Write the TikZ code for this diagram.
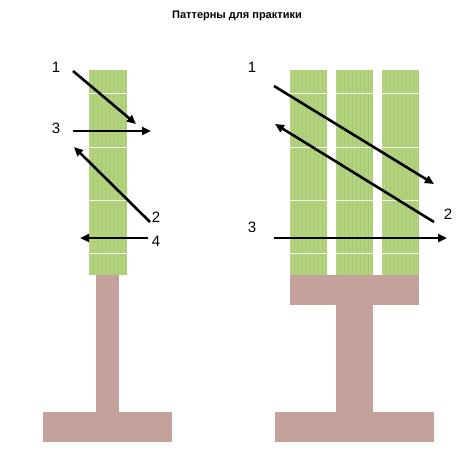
\documentclass[tikz,border=0pt]{standalone}
\usepackage{fontspec}
\setmainfont{Liberation Sans}
\usetikzlibrary{arrows.meta}
\definecolor{leafgreen}{HTML}{B3D27E}
\definecolor{stripegreen}{HTML}{A9CA74}
\definecolor{woodpink}{HTML}{C4A19A}

\begin{document}
\begin{tikzpicture}[x=1pt, y=-1pt,
          plank/.style={fill=leafgreen, draw=none},
          body/.style={fill=woodpink, draw=none},
          seam/.style={white!85!leafgreen, line width=1pt},
          grain/.style={stripegreen, line width=0.5pt},
          arrow/.style={-{Triangle[length=9pt,width=8pt]}, line width=2.6pt},
          num/.style={font=\fontsize{15}{15}\selectfont, inner sep=0pt}
        ]
          \useasboundingbox (0,0) rectangle (472,474);
          \node[font=\bfseries\fontsize{11}{11}\selectfont] (title) at (237,16) {Паттерны для практики};

          % Left: narrow board
          \fill[body] (96,275) rectangle (119,413);
          \fill[body] (43,412) rectangle (172,442);
          \fill[plank] (89,70) rectangle (127,275);
          \foreach \x in {93,97,...,125} \draw[grain] (\x,70) -- (\x,275);
          \foreach \y in {93,147,200,253} \draw[seam] (89,\y) -- (127,\y);

          % Right: wide board
          \fill[body] (290,275) rectangle (419,305);
          \fill[body] (336,305) rectangle (373,413);
          \fill[body] (275,412) rectangle (434,442);
          \foreach \a/\b in {290/327, 336/373, 382/419} {
            \fill[plank] (\a,70) rectangle (\b,275);
            \foreach \x in {4,8,...,36} \draw[grain] (\a+\x,70) -- (\a+\x,275);
            \foreach \y in {93,147,200,253} \draw[seam] (\a,\y) -- (\b,\y);
          }

          % Left arrows
          \coordinate (l1s) at (73,71);   \coordinate (l1e) at (136,124);
          \coordinate (l3s) at (73,131);  \coordinate (l3e) at (151,131);
          \coordinate (l2s) at (150,222); \coordinate (l2e) at (74,147);
          \coordinate (l4s) at (148,238); \coordinate (l4e) at (80,238);
          \draw[arrow] (l1s) -- (l1e);
          \draw[arrow] (l3s) -- (l3e);
          \draw[arrow] (l2s) -- (l2e);
          \draw[arrow] (l4s) -- (l4e);
          \node[num] (l1) at (56,67) {1};
          \node[num] (l3) at (56,128) {3};
          \node[num] (l2) at (156,217) {2};
          \node[num] (l4) at (156,241) {4};

          % Right arrows
          \coordinate (r1s) at (274,86);  \coordinate (r1e) at (434,184);
          \coordinate (r2s) at (434,222); \coordinate (r2e) at (275,124);
          \coordinate (r3s) at (274,238); \coordinate (r3e) at (447,238);
          \draw[arrow] (r1s) -- (r1e);
          \draw[arrow] (r2s) -- (r2e);
          \draw[arrow] (r3s) -- (r3e);
          \node[num] (r1) at (252,67) {1};
          \node[num] (r2) at (448,214) {2};
          \node[num] (r3) at (252,227) {3};
        \end{tikzpicture}
\end{document}
